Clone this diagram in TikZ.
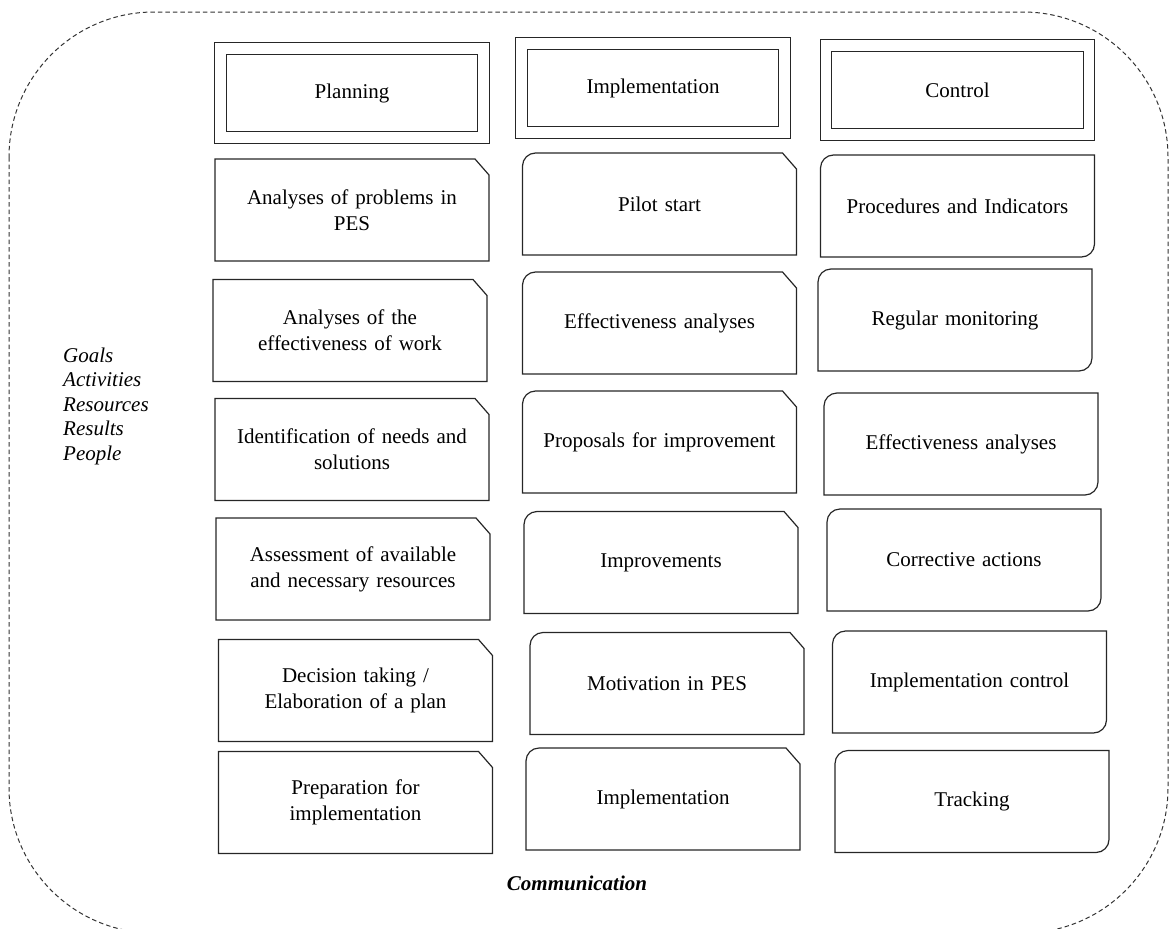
\documentclass[tikz,border=0pt]{standalone}
\usepackage{fontspec}
\setmainfont{Liberation Serif}

\newcommand{\planframe}[1]{%
	\draw[frameline] (#1.south west) -- (#1.north west) -- ([xshift=-14pt]#1.north east)
		-- ([yshift=-16pt]#1.north east) -- (#1.south east) -- cycle;}
\newcommand{\implframe}[1]{%
	\draw[frameline] (#1.south west) -- ([yshift=-13pt]#1.north west)
		arc[start angle=180, end angle=90, radius=13pt] -- ([xshift=-14pt]#1.north east)
		-- ([yshift=-16pt]#1.north east) -- (#1.south east) -- cycle;}
\newcommand{\ctrlframe}[1]{%
	\draw[frameline] (#1.south west) -- ([yshift=-13pt]#1.north west)
		arc[start angle=180, end angle=90, radius=13pt] -- (#1.north east)
		-- ([yshift=13pt]#1.south east) arc[start angle=0, end angle=-90, radius=13pt] -- cycle;}

\begin{document}
\begin{tikzpicture}[x=1pt,y=-1pt,
	txt/.style={font=\fontsize{21}{26}\selectfont},
	frameline/.style={line width=1.2pt,draw=black!85},
	phase/.style={txt,draw=black!85,line width=1.2pt,double,double distance=10.5pt,
		minimum width=263pt,minimum height=89pt,outer sep=0pt},
	task/.style={txt,minimum width=274pt,minimum height=102pt,text width=250pt,
		align=center,outer sep=0pt,inner sep=0pt}]
	\useasboundingbox (0,0) rectangle (1170,929);

	% outer dashed boundary
	\draw[line width=1pt,draw=black!80,dash pattern=on 4.5pt off 3pt,rounded corners=145pt]
		(9,12) rectangle (1168,933);

	% headers
	\node[phase] (plan) at (352,93) {Planning};
	\node[phase] (impl) at (653,88) {Implementation};
	\node[phase] (ctrl) at (957.5,90) {Control};

	% planning column
	\node[task] (p1) at (352,210) {Analyses of problems in\\PES};
	\node[task] (p2) at (350,330.5) {Analyses of the\\effectiveness of work};
	\node[task] (p3) at (352,449.5) {Identification of needs and\\solutions};
	\node[task] (p4) at (353,569) {Assessment of available\\and necessary resources};
	\node[task] (p5) at (355.5,690.5) {Decision taking /\\Elaboration of a plan};
	\node[task] (p6) at (355.5,802.5) {Preparation for\\implementation};

	% implementation column
	\node[task] (i1) at (659.5,204) {Pilot start};
	\node[task] (i2) at (659.5,323) {Effectiveness analyses};
	\node[task] (i3) at (659.5,442) {Proposals for improvement};
	\node[task] (i4) at (661,562.5) {Improvements};
	\node[task] (i5) at (667,683.5) {Motivation in PES};
	\node[task] (i6) at (663,799) {Implementation};

	% control column
	\node[task] (c1) at (957.5,206) {Procedures and Indicators};
	\node[task] (c2) at (955,320) {Regular monitoring};
	\node[task] (c3) at (961,444) {Effectiveness analyses};
	\node[task] (c4) at (964,560) {Corrective actions};
	\node[task] (c5) at (969.5,682) {Implementation control};
	\node[task] (c6) at (972,801.5) {Tracking};

	\foreach \n in {p1,p2,p3,p4,p5,p6} {\planframe{\n}}
	\foreach \n in {i1,i2,i3,i4,i5,i6} {\implframe{\n}}
	\foreach \n in {c1,c2,c3,c4,c5,c6} {\ctrlframe{\n}}

	\node[font=\fontsize{21}{24.5}\selectfont\itshape,align=left,anchor=west,inner sep=0pt]
		(aspects) at (63,406) {Goals\\Activities\\Resources\\Results\\People};
	\node[txt,font=\fontsize{21}{26}\selectfont\bfseries\itshape] (comm) at (577,883) {Communication};
\end{tikzpicture}
\end{document}
